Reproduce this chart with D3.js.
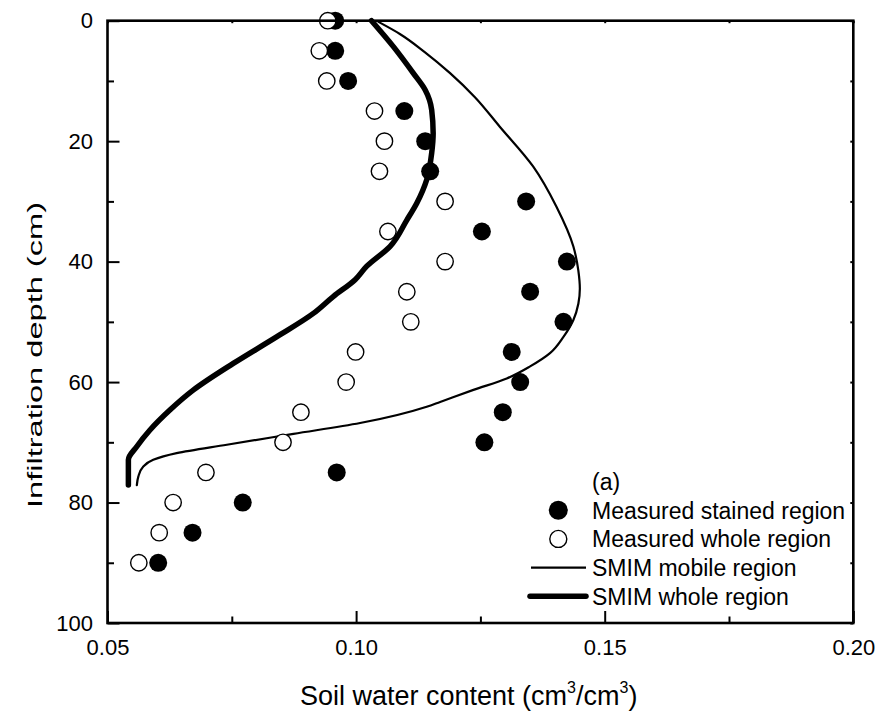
<!DOCTYPE html>
<html>
<head>
<meta charset="utf-8">
<script src="https://cdn.jsdelivr.net/npm/d3@7"></script>
<style>
  html, body { margin: 0; padding: 0; background: #fff; }
  svg { display: block; font-family: "Liberation Sans", Arial, sans-serif; }
</style>
</head>
<body>
<svg id="chart" width="879" height="717"></svg>
<script>
// ---- data ----
const depths = [0, 5, 10, 15, 20, 25, 30, 35, 40, 45, 50, 55, 60, 65, 70, 75, 80, 85, 90];
const stainedValues = [0.0958, 0.0958, 0.0984, 0.1097, 0.1139, 0.1149, 0.1342, 0.1253, 0.1424, 0.1350,
                       0.1417, 0.1313, 0.1330, 0.1295, 0.1258, 0.0961, 0.0772, 0.0671, 0.0602];
const wholeValues = [0.0943, 0.0926, 0.0941, 0.1037, 0.1057, 0.1047, 0.1179, 0.1064, 0.1179, 0.1102,
                     0.1110, 0.0999, 0.0980, 0.0889, 0.0853, 0.0698, 0.0632, 0.0604, 0.0563];
const mobileTheta = [0.1045, 0.1088, 0.1138, 0.1189, 0.1239, 0.1289, 0.1356, 0.1403, 0.1437, 0.1447, 0.1450, 0.1447,
                     0.1437, 0.1417, 0.1390, 0.1350, 0.1303, 0.1236, 0.1169, 0.1142, 0.1008, 0.0874,
                     0.0740, 0.0639, 0.0592, 0.0572, 0.0562, 0.0559];
const mobileDepth = [0.2, 2.2, 5.2, 8.7, 12.7, 17.6, 24.2, 30.9, 37.5, 41.5, 44.5, 47.0,
                     49.7, 52.5, 55.2, 57.4, 59.4, 61.3, 63.3, 64.1, 66.8, 68.6,
                     70.4, 71.8, 72.9, 74.0, 75.7, 77.1];
const wholeTheta = [0.1031, 0.1075, 0.1115, 0.1139, 0.1152, 0.1155, 0.1152, 0.1142, 0.1122, 0.1102,
                    0.1068, 0.1021, 0.0998, 0.0954, 0.0914, 0.0840, 0.0753, 0.0673, 0.0626, 0.0585,
                    0.0559, 0.0542, 0.0542, 0.0542];
const wholeDepth = [0.0, 4.3, 8.7, 11.5, 14.8, 18.7, 22.0, 26.4, 30.3, 33.1,
                    37.5, 40.8, 43.0, 45.8, 48.6, 52.5, 56.9, 61.3, 64.6, 68.0,
                    70.7, 72.9, 75.1, 77.1];
const xTickValues = [0.05, 0.10, 0.15, 0.20];
const xTickLabels = ["0.05", "0.10", "0.15", "0.20"];
const xMinorValues = [0.075, 0.125, 0.175];
const yTickValues = [0, 20, 40, 60, 80, 100];
const yTickLabels = ["0", "20", "40", "60", "80", "100"];
const yMinorValues = [10, 30, 50, 70, 90];
const legendLabels = ["Measured stained region", "Measured whole region", "SMIM mobile region", "SMIM whole region"];
const panelLabel = "(a)";

// ---- layout ----
const svg = d3.select("#chart");
const L = 107.5, R = 853.3, T = 20.7, B = 623;
const x = d3.scaleLinear().domain([0.05, 0.20]).range([L, R]);
const y = d3.scaleLinear().domain([0, 100]).range([T, B]);

const g = svg.append("g");

// curves
const line = d3.line().x(d => x(d[0])).y(d => y(d[1])).curve(d3.curveMonotoneY);
g.append("path")
  .attr("d", line(mobileTheta.map((v, i) => [v, mobileDepth[i]])))
  .attr("fill", "none").attr("stroke", "#000").attr("stroke-width", 2.2)
  .attr("stroke-linecap", "round");
g.append("path")
  .attr("d", line(wholeTheta.map((v, i) => [v, wholeDepth[i]])))
  .attr("fill", "none").attr("stroke", "#000").attr("stroke-width", 5.5)
  .attr("stroke-linecap", "round").attr("stroke-linejoin", "round");

// points
g.selectAll("circle.st").data(depths).enter().append("circle")
  .attr("class", "st")
  .attr("cx", (d, i) => x(stainedValues[i])).attr("cy", d => y(d))
  .attr("r", 9).attr("fill", "#000");
g.selectAll("circle.wh").data(depths).enter().append("circle")
  .attr("class", "wh")
  .attr("cx", (d, i) => x(wholeValues[i])).attr("cy", d => y(d))
  .attr("r", 8.2).attr("fill", "#fff").attr("stroke", "#000").attr("stroke-width", 1.4);

// frame
svg.append("rect").attr("x", L).attr("y", T).attr("width", R - L).attr("height", B - T)
  .attr("fill", "none").attr("stroke", "#000").attr("stroke-width", 2.6);

// axes via d3 (ticks inward)
const fmtX = d => xTickLabels[xTickValues.indexOf(d)];
const fmtY = d => yTickLabels[yTickValues.indexOf(d)];

function styleAxis(sel) {
  sel.select(".domain").remove();
  sel.selectAll(".tick line").attr("stroke", "#000").attr("stroke-width", 2);
  sel.selectAll(".tick text").style("font-size", "22px").attr("fill", "#000")
     .style("font-family", "'Liberation Sans', Arial, sans-serif");
}

// bottom
const xb = svg.append("g").attr("transform", `translate(0,${B})`)
  .call(d3.axisBottom(x).tickValues(xTickValues).tickFormat(fmtX).tickSizeInner(-12).tickPadding(30));
styleAxis(xb);
xb.selectAll(".tick text").attr("dy", "0.1em");
svg.append("g").attr("transform", `translate(0,${B})`)
  .call(d3.axisBottom(x).tickValues(xMinorValues).tickFormat("").tickSizeInner(-6.5).tickSizeOuter(0))
  .call(styleAxis);
// left
const yl = svg.append("g").attr("transform", `translate(${L},0)`)
  .call(d3.axisLeft(y).tickValues(yTickValues).tickFormat(fmtY).tickSizeInner(-12).tickPadding(14.5));
styleAxis(yl);
svg.append("g").attr("transform", `translate(${L},0)`)
  .call(d3.axisLeft(y).tickValues(yMinorValues).tickFormat("").tickSizeInner(-6.5).tickSizeOuter(0))
  .call(styleAxis);
// top
svg.append("g").attr("transform", `translate(0,${T})`)
  .call(d3.axisTop(x).tickValues(xTickValues.concat(xMinorValues)).tickFormat("").tickSizeInner(-2.5).tickSizeOuter(0))
  .call(styleAxis);
// right
svg.append("g").attr("transform", `translate(${R},0)`)
  .call(d3.axisRight(y).tickValues(yTickValues.concat(yMinorValues)).tickFormat("").tickSizeInner(-3).tickSizeOuter(0))
  .call(styleAxis);

// axis titles
const xt = svg.append("text").attr("x", 300).attr("y", 705)
  .attr("font-size", 27).attr("fill", "#000");
xt.append("tspan").text("Soil water content (cm");
xt.append("tspan").attr("font-size", 16).attr("dy", -12).text("3");
xt.append("tspan").attr("dy", 12).text("/cm");
xt.append("tspan").attr("font-size", 16).attr("dy", -12).text("3");
xt.append("tspan").attr("dy", 12).text(")");

svg.append("text")
  .attr("transform", "translate(42,355) rotate(-90)")
  .attr("text-anchor", "middle")
  .attr("font-size", 19.5).attr("fill", "#000")
  .attr("textLength", 306).attr("lengthAdjust", "spacingAndGlyphs")
  .text("Infiltration depth (cm)");

// legend
const lx = 592, ly0 = 490, lstep = 28.7;
svg.append("text").attr("x", lx).attr("y", ly0).attr("font-size", 23).attr("fill", "#000").text(panelLabel);
const leg = svg.append("g");
legendLabels.forEach((lab, i) => {
  const by = ly0 + lstep * (i + 1);
  leg.append("text").attr("x", lx).attr("y", by).attr("font-size", 23).attr("fill", "#000").text(lab);
  const cy = by - 8.5;
  if (i === 0) leg.append("circle").attr("cx", 558.3).attr("cy", cy).attr("r", 9.5).attr("fill", "#000");
  if (i === 1) leg.append("circle").attr("cx", 558.3).attr("cy", cy).attr("r", 8.5).attr("fill", "#fff").attr("stroke", "#000").attr("stroke-width", 1.4);
  if (i === 2) leg.append("line").attr("x1", 531).attr("x2", 586).attr("y1", cy).attr("y2", cy).attr("stroke", "#000").attr("stroke-width", 2.2);
  if (i === 3) leg.append("line").attr("x1", 530).attr("x2", 586).attr("y1", cy).attr("y2", cy).attr("stroke", "#000").attr("stroke-width", 5.5).attr("stroke-linecap", "round");
});
</script>
</body>
</html>
